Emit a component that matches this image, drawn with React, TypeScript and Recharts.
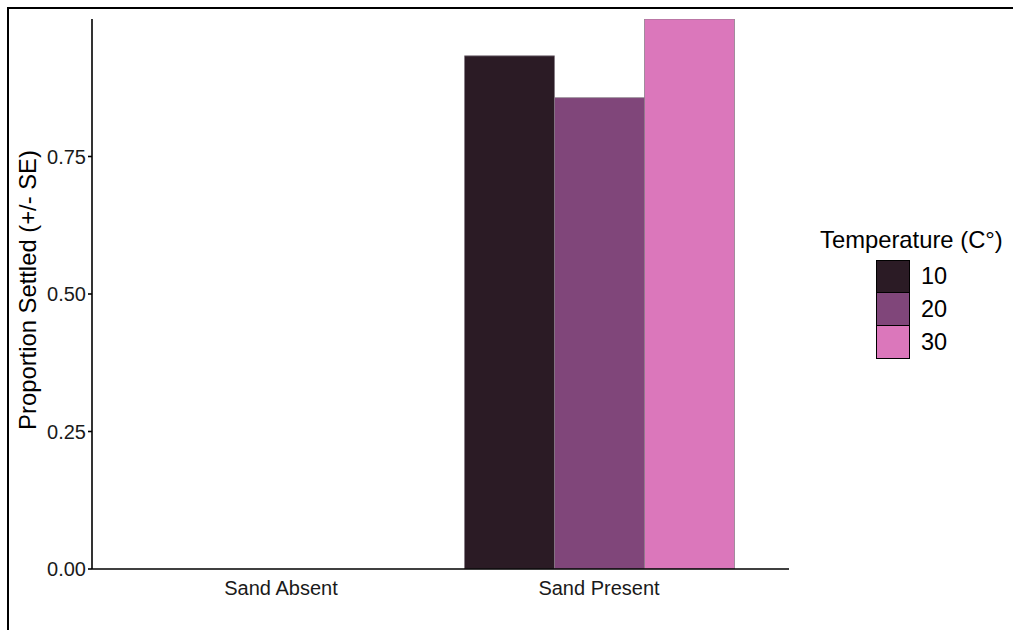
import React from "react";
import { BarChart, Bar, XAxis, YAxis, Legend, Label } from "recharts";

const categories = ["Sand Absent", "Sand Present"];
const temp10 = [0, 0.933];
const temp20 = [0, 0.857];
const temp30 = [0, 1.0];
const yTicks = [0, 0.25, 0.5, 0.75];
const seriesNames = ["10", "20", "30"];
const seriesColors = ["#2b1b25", "#80467a", "#db77bb"];
const legendTitle = "Temperature (C°)";
const yLabel = "Proportion Settled (+/- SE)";

const data = categories.map((c, i) => ({
  name: c,
  t10: temp10[i],
  t20: temp20[i],
  t30: temp30[i],
}));

const FONT = "'Liberation Sans', Arial, Helvetica, sans-serif";

const LegendContent = () => (
  <div style={{ fontFamily: FONT, color: "#000" }}>
    <div style={{ fontSize: 23.8, lineHeight: "28px", whiteSpace: "nowrap" }}>{legendTitle}</div>
    <div style={{ marginLeft: 56, marginTop: 6 }}>
      {seriesNames.map((n, i) => (
        <div key={n} style={{ display: "flex", alignItems: "center", height: 33 }}>
          <div
            style={{
              width: 34,
              height: 34,
              boxSizing: "border-box",
              background: seriesColors[i],
              border: "1.5px solid #000",
              marginTop: i === 0 ? 0 : -1,
            }}
          />
          <span style={{ fontSize: 23.5, marginLeft: 11, lineHeight: "33px" }}>{n}</span>
        </div>
      ))}
    </div>
  </div>
);

const YLabelContent = () => (
  <text
    x={27}
    y={290}
    transform="rotate(-90 27 290)"
    textAnchor="middle"
    dominantBaseline="central"
    fontSize={23.8}
    fontFamily={FONT}
    fill="#000"
  >
    {yLabel}
  </text>
);

export default function App() {
  return (
    <div style={{ position: "absolute", left: 0, top: 0, width: 1013, height: 630, background: "#fff", overflow: "hidden" }}>
      <div
        style={{
          position: "absolute",
          left: 7,
          top: 7,
          width: 1100,
          height: 700,
          borderTop: "2.5px solid #000",
          borderLeft: "2.5px solid #000",
        }}
      />
      <div style={{ position: "absolute", left: 0, top: 0 }}>
        <BarChart
          width={1013}
          height={630}
          data={data}
          margin={{ top: 19, right: 224, bottom: 31, left: 32 }}
          barGap={0}
          barCategoryGap={24.5}
        >
          <XAxis
            dataKey="name"
            height={30}
            padding={{ left: 30, right: 31 }}
            tickLine={false}
            axisLine={{ stroke: "#000", strokeWidth: 1.6 }}
            tick={{ fill: "#1a1a1a", fontSize: 20, fontFamily: FONT, dy: 4 }}
          />
          <YAxis
            width={60}
            domain={[0, 1]}
            ticks={yTicks}
            allowDataOverflow
            tickFormatter={(v: number) => v.toFixed(2)}
            tickSize={4}
            tickLine={{ stroke: "#000", strokeWidth: 1.6 }}
            axisLine={{ stroke: "#000", strokeWidth: 1.6 }}
            tick={{ fill: "#1a1a1a", fontSize: 20, fontFamily: FONT }}
          >
            <Label content={<YLabelContent />} />
          </YAxis>
          <Legend
            layout="vertical"
            align="center"
            verticalAlign="middle"
            content={<LegendContent />}
            wrapperStyle={{ position: "absolute", left: 820, top: 226, width: 190, height: 140 }}
          />
          <Bar dataKey="t10" name={seriesNames[0]} fill={seriesColors[0]} stroke="rgba(130,120,130,0.7)" strokeWidth={1} isAnimationActive={false} />
          <Bar dataKey="t20" name={seriesNames[1]} fill={seriesColors[1]} stroke="rgba(130,120,130,0.7)" strokeWidth={1} isAnimationActive={false} />
          <Bar dataKey="t30" name={seriesNames[2]} fill={seriesColors[2]} stroke="rgba(130,120,130,0.7)" strokeWidth={1} isAnimationActive={false} />
        </BarChart>
      </div>
    </div>
  );
}
